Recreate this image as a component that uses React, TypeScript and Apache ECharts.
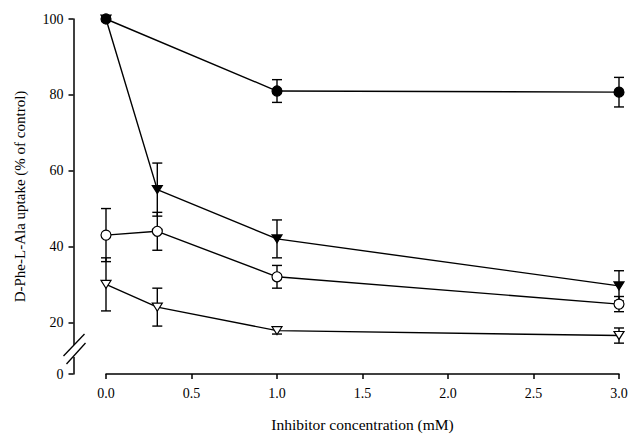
import React, { useEffect, useRef } from "react";
import * as echarts from "echarts";

// ---- data ----
const xTicks = [0, 0.5, 1.0, 1.5, 2.0, 2.5, 3.0];
const yTickValues = [20, 40, 60, 80, 100];
const BREAK_ZERO_LABEL = "0";

// filled circles
const fcX = [0, 1.0, 3.0];
const fcY = [100, 81, 80.7];
const fcErr = [0, 3, 3.9];
// filled down-triangles
const ftX = [0, 0.3, 1.0, 3.0];
const ftY = [100, 55, 42, 29.6];
const ftErr = [0, 7, 5, 4];
// open circles
const ocX = [0, 0.3, 1.0, 3.0];
const ocY = [43, 44, 32, 24.8];
const ocErr = [7, 5, 3, 2];
// open down-triangles
const otX = [0, 0.3, 1.0, 3.0];
const otY = [30, 24, 17.8, 16.5];
const otErr = [7, 5, 0.9, 2];

// ---- layout ----
const W = 631;
const H = 437;
const GRID = { left: 106, right: 12, top: 19, bottom: 61 };
const Y_AXIS_OFFSET = 32.5;
const Y_MIN = 6.36; // position where the broken axis shows "0"
const FONT = "Liberation Serif";

const pairs = (xs: number[], ys: number[]) => xs.map((x, i) => [x, ys[i]]);
const triples = (xs: number[], ys: number[], es: number[]) =>
  xs.map((x, i) => [x, ys[i], es[i]]);

function errorSeries(xs: number[], ys: number[], es: number[]) {
  return {
    type: "custom",
    z: 1,
    clip: false,
    data: triples(xs, ys, es),
    encode: { x: 0, y: 1 },
    renderItem: (_p: any, api: any) => {
      const x = api.value(0);
      const y = api.value(1);
      const e = api.value(2);
      if (!e) return null;
      const top = api.coord([x, y + e]);
      const bot = api.coord([x, y - e]);
      const hw = 5;
      const st = { stroke: "#000", lineWidth: 1.4 };
      return {
        type: "group",
        children: [
          { type: "line", shape: { x1: top[0], y1: top[1], x2: bot[0], y2: bot[1] }, style: st },
          { type: "line", shape: { x1: top[0] - hw, y1: top[1], x2: top[0] + hw, y2: top[1] }, style: st },
          { type: "line", shape: { x1: bot[0] - hw, y1: bot[1], x2: bot[0] + hw, y2: bot[1] }, style: st },
        ],
      };
    },
  };
}

function lineSeries(
  xs: number[],
  ys: number[],
  symbol: string,
  filled: boolean,
  size: number | number[],
  rotate = 0
) {
  return {
    type: "line",
    z: 3,
    clip: false,
    data: pairs(xs, ys),
    symbol,
    symbolSize: size,
    symbolRotate: rotate,
    showAllSymbol: true,
    lineStyle: { color: "#000", width: 1.4 },
    itemStyle: {
      color: filled ? "#000" : "#fff",
      borderColor: "#000",
      borderWidth: 1.2,
      opacity: 1,
    },
    emphasis: { disabled: true },
  };
}

export default function App() {
  const ref = useRef<HTMLDivElement>(null);
  useEffect(() => {
    if (!ref.current) return;
    const chart = echarts.init(ref.current, null, { renderer: "svg" });
    const labelValues = [Y_MIN, ...yTickValues];
    chart.setOption({
      animation: false,
      backgroundColor: "#fff",
      grid: { ...GRID, containLabel: false },
      xAxis: {
        type: "value",
        min: 0,
        max: 3,
        interval: 0.5,
        name: "Inhibitor concentration (mM)",
        nameLocation: "middle",
        nameGap: 42,
        nameTextStyle: { fontFamily: FONT, fontSize: 15.5, color: "#000" },
        axisLine: { show: true, onZero: false, lineStyle: { color: "#000", width: 1.5 } },
        axisTick: { show: true, inside: false, length: 5, lineStyle: { color: "#000", width: 1.5 } },
        axisLabel: {
          margin: 12,
          fontFamily: FONT,
          fontSize: 14,
          color: "#000",
          formatter: (v: number) => v.toFixed(1),
          customValues: xTicks,
        },
        splitLine: { show: false },
      },
      yAxis: {
        type: "value",
        min: Y_MIN,
        max: 100,
        offset: Y_AXIS_OFFSET,
        name: "D-Phe-L-Ala uptake (% of control)",
        nameLocation: "middle",
        nameGap: 46,
        nameTextStyle: { fontFamily: FONT, fontSize: 15, color: "#000" },
        axisLine: { show: true, onZero: false, lineStyle: { color: "#000", width: 1.5 } },
        axisTick: {
          show: true,
          length: 5,
          lineStyle: { color: "#000", width: 1.5 },
          customValues: labelValues,
        },
        axisLabel: {
          margin: 10,
          fontFamily: FONT,
          fontSize: 14,
          color: "#000",
          customValues: labelValues,
          formatter: (v: number) => (Math.abs(v - Y_MIN) < 1e-6 ? BREAK_ZERO_LABEL : String(Math.round(v))),
        },
        splitLine: { show: false },
      },
      series: [
        errorSeries(fcX, fcY, fcErr),
        errorSeries(ftX, ftY, ftErr),
        errorSeries(ocX, ocY, ocErr),
        errorSeries(otX, otY, otErr),
        lineSeries(fcX, fcY, "circle", true, 10),
        lineSeries(ftX, ftY, "triangle", true, [10, 8], 180),
        lineSeries(ocX, ocY, "circle", false, 10),
        lineSeries(otX, otY, "triangle", false, [10, 8], 180),
      ],
    });

    // axis break decoration
    const y0 = chart.convertToPixel({ yAxisIndex: 0 }, Y_MIN) as number;
    const ax = GRID.left - Y_AXIS_OFFSET;
    chart.setOption({
      graphic: [
        {
          type: "rect",
          z: 100,
          shape: { x: ax - 3, y: y0 - 29, width: 6, height: 12 },
          style: { fill: "#fff" },
        },
        {
          type: "line",
          z: 101,
          shape: { x1: ax - 10, y1: y0 - 18, x2: ax + 11, y2: y0 - 40 },
          style: { stroke: "#000", lineWidth: 1.3 },
        },
        {
          type: "line",
          z: 101,
          shape: { x1: ax - 7, y1: y0 - 10, x2: ax + 12, y2: y0 - 31 },
          style: { stroke: "#000", lineWidth: 1.3 },
        },
      ],
    });
    return () => chart.dispose();
  }, []);
  return (
    <div
      ref={ref}
      style={{ position: "absolute", left: 0, top: 0, width: W, height: H, background: "#fff" }}
    />
  );
}
